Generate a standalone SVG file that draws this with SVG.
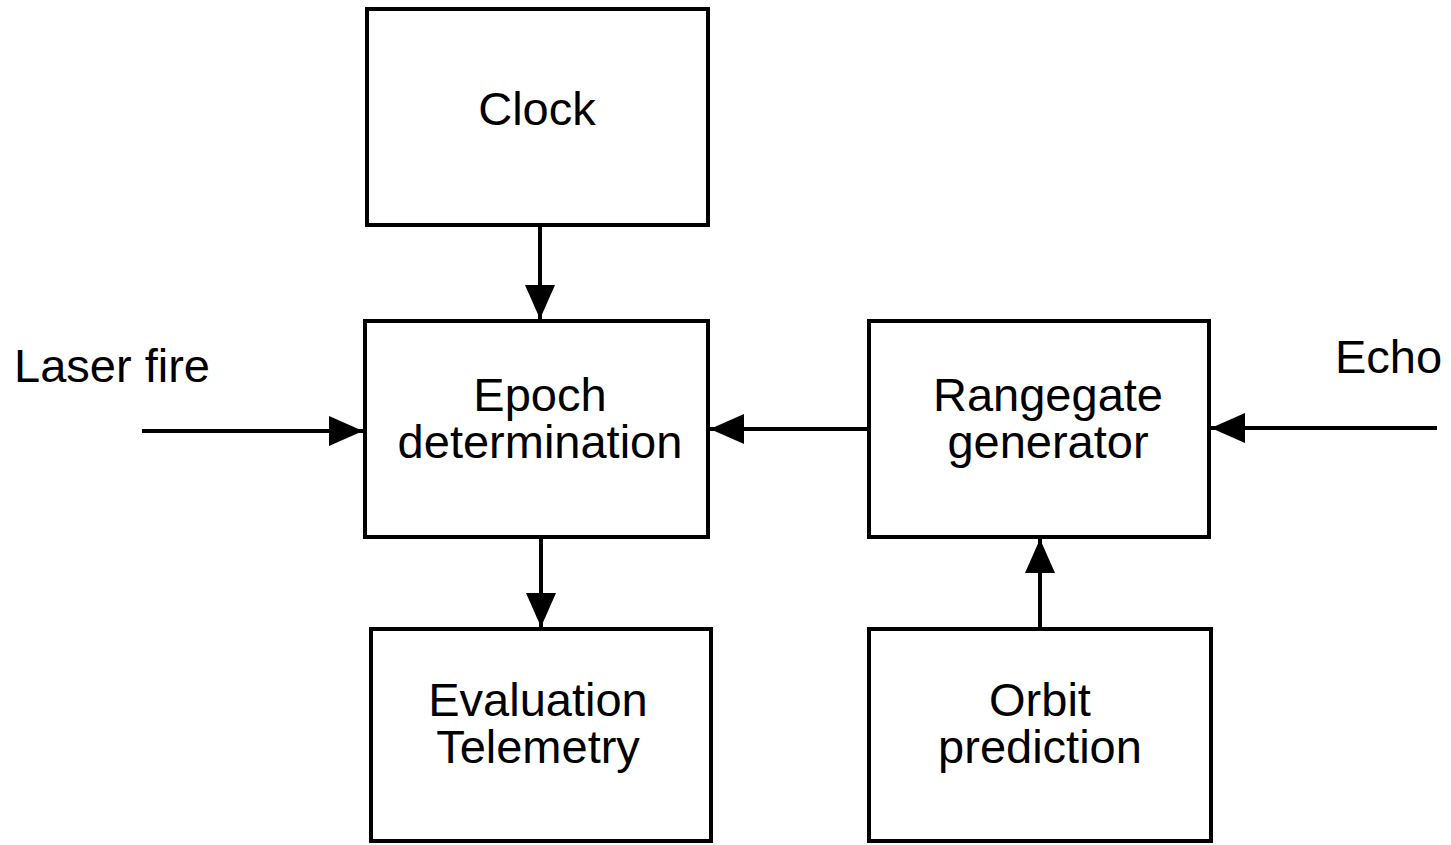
<svg xmlns="http://www.w3.org/2000/svg" width="1451" height="845" viewBox="0 0 1451 845">
  <style>
    .box { fill: #ffffff; stroke: #000000; stroke-width: 4; }
    .lbl { font-family: "Liberation Sans", Arial, sans-serif; font-size: 47px; fill: #000000; text-anchor: middle; }
    .side { font-family: "Liberation Sans", Arial, sans-serif; font-size: 47px; fill: #000000; }
    .wire { fill: none; stroke: #000000; stroke-width: 4; marker-end: url(#head); }
  </style>
  <defs>
    <marker id="head" markerUnits="userSpaceOnUse" viewBox="0 0 34 30" refX="34" refY="15" markerWidth="34" markerHeight="30" orient="auto">
      <path d="M0,0 L34,15 L0,30 Z" fill="#000000"/>
    </marker>
  </defs>
  <rect width="1451" height="845" fill="#ffffff"/>

  <g id="clock">
    <rect class="box" x="367" y="9" width="341" height="216"/>
    <text class="lbl" x="537" y="125">Clock</text>
  </g>
  <g id="epoch">
    <rect class="box" x="365" y="321" width="343" height="216"/>
    <text class="lbl" x="540" y="411">Epoch</text>
    <text class="lbl" x="540" y="458">determination</text>
  </g>
  <g id="evaluation">
    <rect class="box" x="371" y="629" width="340" height="212"/>
    <text class="lbl" x="538" y="716">Evaluation</text>
    <text class="lbl" x="538" y="763">Telemetry</text>
  </g>
  <g id="rangegate">
    <rect class="box" x="869" y="321" width="340" height="216"/>
    <text class="lbl" x="1048" y="411">Rangegate</text>
    <text class="lbl" x="1048" y="458">generator</text>
  </g>
  <g id="orbit">
    <rect class="box" x="869" y="629" width="342" height="212"/>
    <text class="lbl" x="1040" y="716">Orbit</text>
    <text class="lbl" x="1040" y="763">prediction</text>
  </g>
  <g id="laser-fire">
    <text class="side" x="14" y="382">Laser fire</text>
  </g>
  <g id="echo">
    <text class="side" x="1335" y="373">Echo</text>
  </g>

  <g id="connectors">
    <path class="wire" d="M540,225 L540,319"/>
    <path class="wire" d="M541,537 L541,627"/>
    <path class="wire" d="M1040,629 L1040,539"/>
    <path class="wire" d="M869,429 L710,429"/>
    <path class="wire" d="M1437,428 L1211,428"/>
    <path class="wire" d="M142,431 L363,431"/>
  </g>
</svg>
